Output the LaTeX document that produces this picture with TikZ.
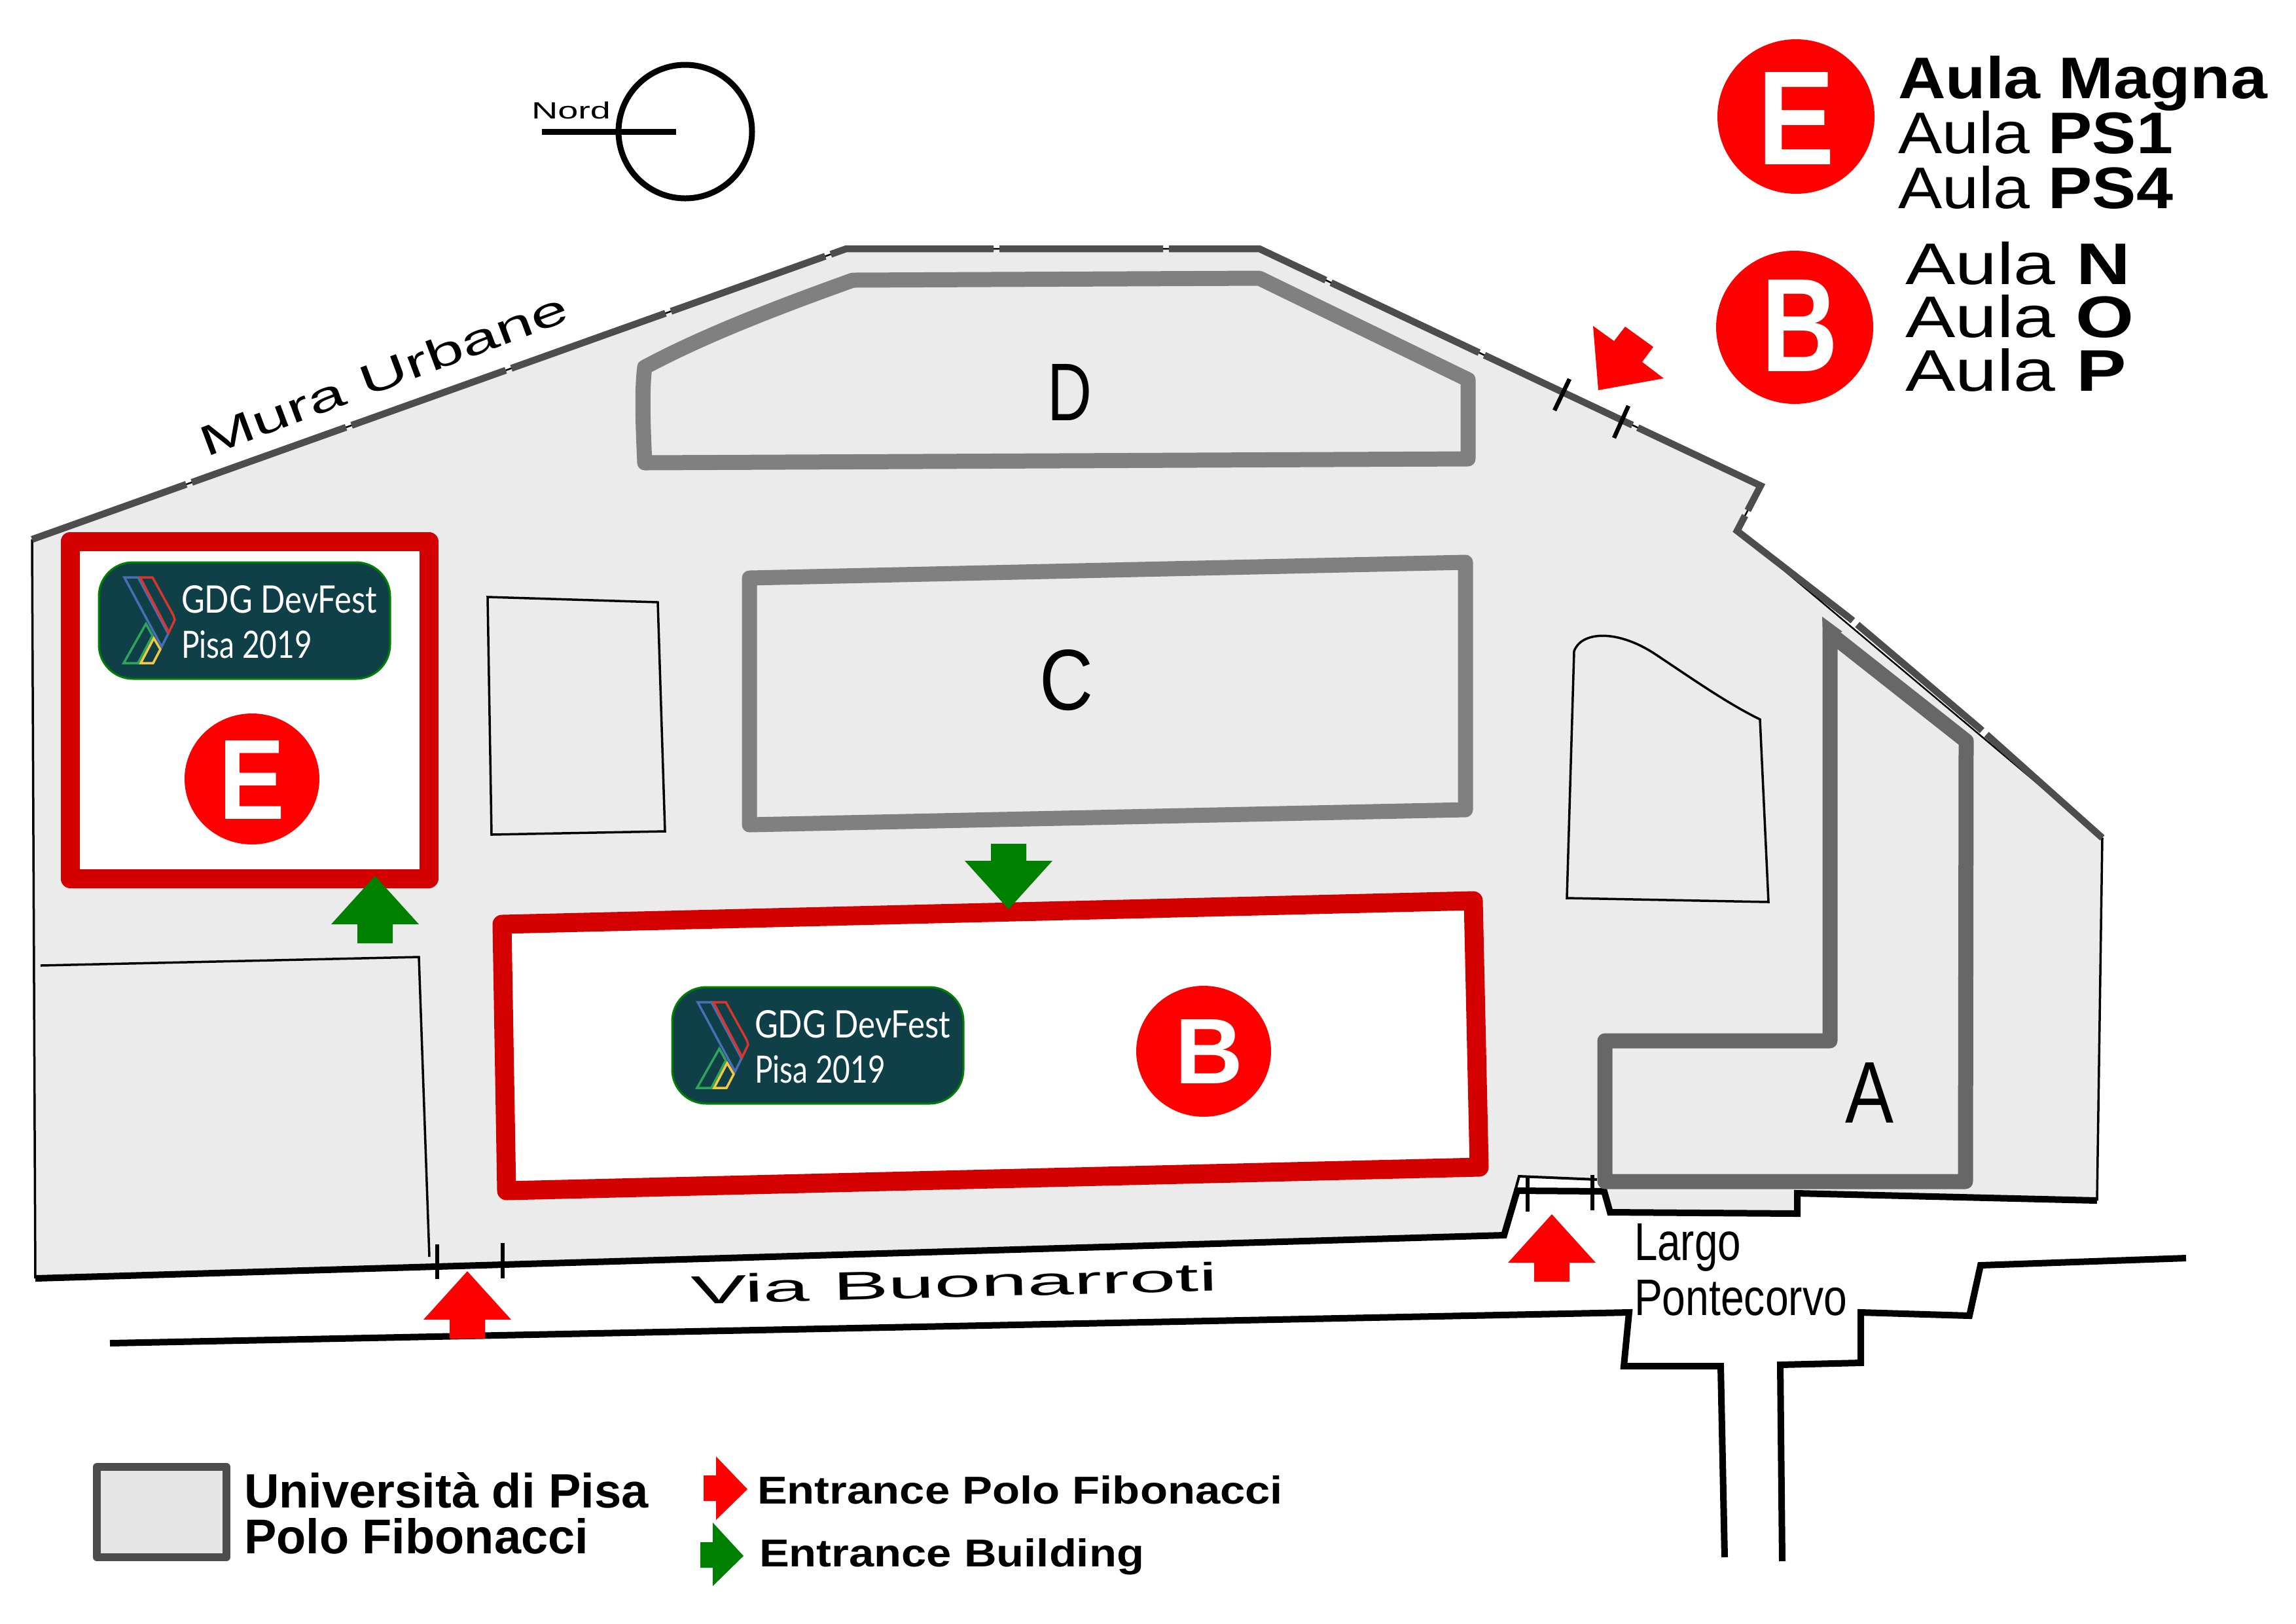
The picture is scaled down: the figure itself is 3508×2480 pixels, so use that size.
\documentclass[tikz,border=0pt]{standalone}
\usepackage{fontspec}
\usepackage{graphicx}
\setmainfont{Liberation Sans}
\newfontfamily\logofont{Lato}
\newlength\px \setlength\px{0.01cm}
\definecolor{campus}{HTML}{EBEBEB}
\definecolor{wallgray}{HTML}{4D4D4D}
\definecolor{bldgA}{HTML}{676767}
\definecolor{bldgG}{HTML}{808080}
\definecolor{hall}{HTML}{D40000}
\definecolor{marker}{HTML}{FF0000}
\definecolor{entry}{HTML}{008000}
\definecolor{logobg}{HTML}{0F3F47}
\definecolor{lblue}{HTML}{4A6EB5}
\definecolor{lred}{HTML}{D9352C}
\definecolor{lgreen}{HTML}{2DA45A}
\definecolor{lyellow}{HTML}{F5C842}
\newcommand\fitbox[3]{\resizebox{#1\px}{#2\px}{#3}}
\newcommand\uparr[3]{\fill[#3,shift={(#1,#2)}] (0,0)--(-67,74)--(-27,74)--(-27,103)--(27,103)--(27,74)--(67,74)--cycle;}
\newcommand\devlogo[3]{%
 \begin{scope}[shift={(#1,#2)}]
  \draw[entry,fill=logobg,line width=3\px,rounded corners=52\px] (151,859) rectangle (596,1037);
  \draw[logoline,lblue] (190,882)--(211,882)--(257,968)--(247,988)--cycle;
  \draw[logoline,lred] (214,882)--(233,882)--(265,940)--(267,947)--(258,966)--cycle;
  \draw[logoline,lgreen] (223,953)--(233,971)--(211,1013)--(189,1013)--cycle;
  \draw[logoline,lyellow] (235,975)--(245,992)--(234,1013)--(215,1013)--cycle;
  \node[txt,text=white] (#3a) at (277,936) {\logofont\fitbox{299}{42}{GDG DevFest}};
  \node[txt,text=white] (#3b) at (277,1005) {\logofont\fitbox{200}{42}{Pisa 2019}};
 \end{scope}}
\tikzset{
 txt/.style={inner sep=0,outer sep=0,anchor=base west},
 thinline/.style={black,line width=3.5\px},
 roadline/.style={black,line width=10\px,line join=miter},
 tick/.style={black,line width=6.5\px},
 bldg/.style={line width=23\px,line join=round},
 hallbox/.style={hall,fill=white,line width=29\px,line join=round},
 logoline/.style={line width=3.5\px,line join=miter},
}
\begin{document}
\begin{tikzpicture}[x=0.01cm,y=-0.01cm]
\useasboundingbox (0,0) rectangle (3508,2480);
\fill[white] (0,0) rectangle (3508,2480);
% campus ground
\fill[campus] (49,824)--(1293,380)--(1924,380)--(2690,742)--(2654,811)--(3212,1280)--(3204,1834)--(2746,1823)--(2746,1854)--(2460,1852)--(2451,1820)--(2318,1819)--(2298,1887)--(54,1953)--cycle;
% thin outline and walls
\draw[thinline] (49,824)--(54,1953);
\draw[thinline] (3212,1280)--(3204,1834);
\draw[thinline,line width=2.5\px] (49,824)--(1293,380)--(1924,380)--(2690,742)--(2654,811)--(3212,1280);
\draw[wallgray,line width=10.5\px,dash pattern=on 2.50cm off 0.09cm] (49,824)--(1293,380)--(1924,380)--(2690,742)--(2654,811)--(2827,945)--(2925,1028)--(3025,1113)--(3212,1280);
% inner plain blocks
\draw[thinline] (745,912)--(1005,920)--(1016,1270)--(751,1275)--cycle;
\draw[thinline] (2405,995) .. controls (2415,965) and (2470,960) .. (2530,1000) .. controls (2590,1040) and (2640,1075) .. (2689,1099)--(2702,1378)--(2394,1372)--cycle;
\draw[thinline] (62,1475)--(640,1462)--(656,1920);
% road lines
\fill[white] (2318,1819)--(2321,1797)--(2440,1802)--(2451,1820)--cycle;
\draw[roadline] (3204,1834)--(2746,1823)--(2746,1854)--(2460,1852)--(2451,1820)--(2318,1819)--(2298,1887)--(54,1953);
\draw[roadline] (168,2052)--(2489,2005)--(2481,2087)--(2629,2087)--(2635,2379);
\draw[roadline] (2723,2385)--(2720,2085)--(2843,2082)--(2843,2005)--(3009,2010)--(3026,1933)--(3340,1922);
\draw[thinline,line width=4\px] (2315,1819)--(2321,1797)--(2440,1802);
% gate ticks
\draw[tick] (2334,1798)--(2334,1851);
\draw[tick] (2433,1795)--(2433,1849);
\draw[tick] (668,1901)--(668,1954);
\draw[tick] (768,1899)--(768,1953);
\draw[tick] (2398,579)--(2375,627);
\draw[tick] (2488,620)--(2466,669);
% buildings
\draw[bldg,bldgG] (985,707)--(2243,701)--(2243,580)--(1924,425)--(1303,428) .. controls (1200,465) and (1080,510) .. (985,561) .. controls (980,600) and (983,660) .. (985,707)--cycle;
\draw[bldg,bldgG] (1145,1260)--(2239,1237)--(2239,859)--(1145,883)--cycle;
\draw[bldg,bldgA] (2796,968)--(3004,1132)--(3003,1805)--(2452,1805)--(2452,1590)--(2796,1590)--cycle;
\fill[bldgA] (2785,975)--(2784,942)--(2815,965)--cycle;
% halls
\draw[hallbox] (107,827) rectangle (655,1342);
\draw[hallbox] (767,1412)--(2251,1376)--(2260,1783)--(774,1819)--cycle;
% logos
\devlogo{0}{0}{logoE}
\devlogo{876}{649}{logoB}
% markers
\fill[marker] (385,1190) ellipse [x radius=103,y radius=100];
\fill[marker] (1839,1606) ellipse [x radius=103,y radius=100];
\fill[marker] (2744,178) ellipse [x radius=120,y radius=118];
\fill[marker] (2742,500) ellipse [x radius=120,y radius=117];
\node[txt,text=white] (mE) at (334,1251) {\fitbox{101}{120}{\bfseries E}};
\node[txt,text=white] (mB) at (1795,1655) {\fitbox{104}{98}{\bfseries B}};
\node[txt,text=white] (bE) at (2685,251) {\fitbox{118}{141}{\bfseries E}};
\node[txt,text=white] (bB) at (2691,567) {\fitbox{117}{140}{\bfseries B}};
% entrances
\uparr{714}{1942}{marker}
\uparr{2371}{1855}{marker}
\uparr{573}{1338}{entry}
\fill[entry,shift={(1541,1389)},yscale=-1] (0,0)--(-67,74)--(-27,74)--(-27,100)--(27,100)--(27,74)--(67,74)--cycle;
\fill[marker] (2442,596)--(2434,498)--(2466,521)--(2483,499)--(2526,530)--(2509,553)--(2542,578)--cycle;
% north mark
\draw[black,line width=9\px] (1047,201) circle [radius=102];
\draw[black,line width=9\px] (828,201)--(1033,201);
\node[txt] (nord) at (812,181) {\fitbox{121}{26}{Nord}};
% labels
\node[txt] (b1) at (1600,642) {\fitbox{68}{86}{D}};
\node[txt] (b2) at (1588,1084) {\fitbox{82}{92}{C}};
\node[txt] (b3) at (2819,1715) {\fitbox{74}{92}{A}};
\node[txt,rotate=20.6] (mura) at (315,698) {\fitbox{596}{47}{Mura Urbane}};
\node[txt,rotate=1.45] (via) at (1056,1992) {\fitbox{805}{44}{Via Buonarroti}};
\node[txt] (lp1) at (2497,1925) {\fitbox{163}{56}{Largo}};
\node[txt] (lp2) at (2497,2009) {\fitbox{325}{54}{Pontecorvo}};
% key top right
\node[txt] (k1) at (2900,150) {\fitbox{564}{65}{\bfseries Aula Magna}};
\node[txt] (k2) at (2900,234) {\fitbox{420}{65}{Aula \bfseries PS1}};
\node[txt] (k3) at (2900,318) {\fitbox{420}{65}{Aula \bfseries PS4}};
\node[txt] (k4) at (2911,434) {\fitbox{344}{65}{Aula \bfseries N}};
\node[txt] (k5) at (2911,515) {\fitbox{350}{65}{Aula \bfseries O}};
\node[txt] (k6) at (2911,597) {\fitbox{338}{65}{Aula \bfseries P}};
% legend
\draw[wallgray,fill=campus!95!gray,line width=12\px,line join=round] (148,2241) rectangle (346,2379);
\node[txt] (l1) at (373,2303) {\fitbox{618}{54}{\bfseries Università di Pisa}};
\node[txt] (l2) at (373,2373) {\fitbox{526}{54}{\bfseries Polo Fibonacci}};
\fill[marker] (1075,2254)--(1094,2254)--(1094,2225)--(1142,2275)--(1094,2322)--(1094,2293)--(1075,2293)--cycle;
\fill[entry] (1070,2356)--(1089,2356)--(1089,2326)--(1136,2377)--(1089,2423)--(1089,2395)--(1070,2395)--cycle;
\node[txt] (l3) at (1157,2297) {\fitbox{803}{43}{\bfseries Entrance Polo Fibonacci}};
\node[txt] (l4) at (1160,2393) {\fitbox{588}{43}{\bfseries Entrance Building}};
\end{tikzpicture}
\end{document}
